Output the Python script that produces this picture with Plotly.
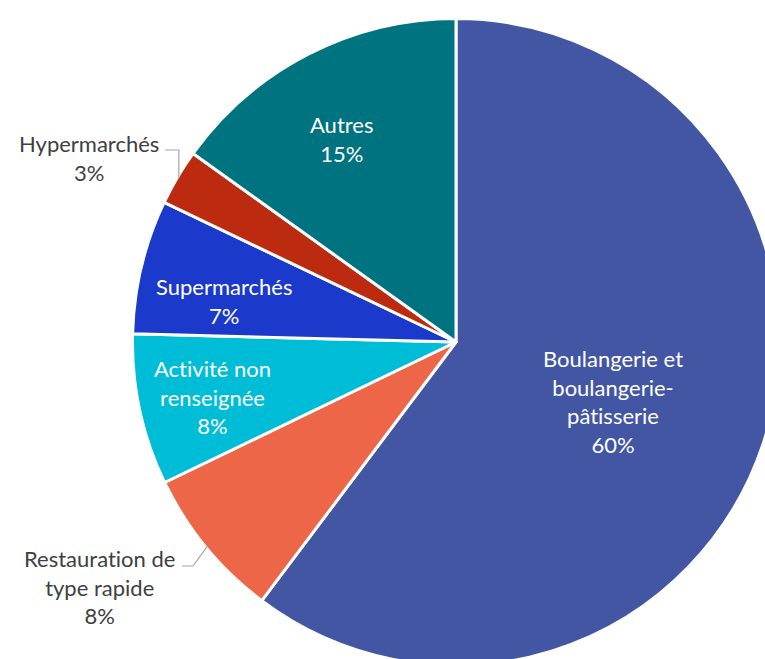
import math
import plotly.graph_objects as go

# ---- data ----
categories = ["Boulangerie et<br>boulangerie-<br>pâtisserie",
              "Restauration de<br>type rapide",
              "Activité non<br>renseignée",
              "Supermarchés",
              "Hypermarchés",
              "Autres"]
shares = [60.25, 7.6, 7.55, 6.7, 2.8, 15.1]

# ---- style ----
colors = ["#4256A4", "#EE6648", "#00BDD7", "#1B3ACC", "#BC2A10", "#007380"]
text_colors = ["white", "#404040", "white", "white", "#404040", "white"]
FONT = "Lato"
FS = 22

W, H = 790, 670
CX, CY, R = 456.0, 342.0, 323.5   # pie centre / radius in pixels

# label centres (pixels)
label_pos = [(613, 401), (99, 587), (212, 397), (224, 301), (89, 158), (341, 139)]


def px2paper(x, y):
    return x / W, 1 - y / H


def no_lig(s):
    # zero-width non-joiner keeps "ti" from forming a ligature
    return s.replace("ti", "t\u200ci")


total = sum(shares)
pct_text = [f"{int(v / total * 100 + 0.5)}%" for v in shares]

fig = go.Figure(go.Pie(
    values=shares,
    labels=[c.replace("<br>", " ") for c in categories],
    sort=False,
    direction="clockwise",
    rotation=0,
    marker=dict(colors=colors, line=dict(color="white", width=3)),
    textinfo="none",
    hoverinfo="skip",
    showlegend=False,
    domain=dict(x=[(CX - R) / W, (CX + R) / W], y=[1 - (CY + R) / H, 1 - (CY - R) / H]),
))

annotations = []
for cat, pct, (lx, ly), tc in zip(categories, pct_text, label_pos, text_colors):
    x, y = px2paper(lx, ly)
    annotations.append(dict(
        x=x, y=y, xref="paper", yref="paper", xanchor="center", yanchor="middle",
        text=f"{no_lig(cat)}<br>{pct}", showarrow=False, align="center",
        font=dict(family=FONT, size=FS, color=tc)))

# leader lines for the two outside labels, ending at the slice mid-angle on the rim
cum = 0.0
mids = []
for v in shares:
    mids.append((cum + v / 2) / total * 360)
    cum += v


def rim(i, rr=322):
    a = math.radians(mids[i])
    return CX + rr * math.sin(a), CY - rr * math.cos(a)

shapes = []
# Hypermarchés
ex, ey = rim(4)
pts = [(165, 150), (ex, 150), (ex, ey)]
# Restauration
ex2, ey2 = rim(1)
pts2 = [(182, 566), (193, 566), (ex2, ey2)]
for p in (pts, pts2):
    path = "M " + " L ".join(f"{px2paper(a, b)[0]:.5f},{px2paper(a, b)[1]:.5f}" for a, b in p)
    shapes.append(dict(type="path", path=path, xref="paper", yref="paper",
                       line=dict(color="#A6A6A6", width=1.2)))

fig.update_layout(
    width=W, height=H,
    margin=dict(l=0, r=0, t=0, b=0),
    paper_bgcolor="white", plot_bgcolor="white",
    annotations=annotations, shapes=shapes,
    font=dict(family=FONT),
)

fig.write_html("out.html", config={"displayModeBar": False},
               post_script="document.body.style.margin='0';document.body.style.overflow='hidden';")
